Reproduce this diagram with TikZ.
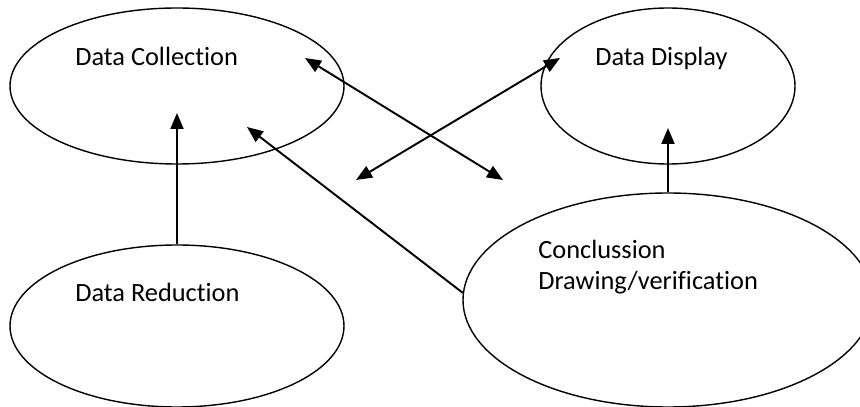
\documentclass[tikz,border=0pt]{standalone}
\usepackage{fontspec}
\setmainfont{Carlito}[Ligatures=NoCommon]
\usepackage{tikz}
\usetikzlibrary{arrows.meta,shapes.geometric,positioning,calc}

\begin{document}
\begin{tikzpicture}[
        stage/.style={ellipse, draw=black, line width=0.8pt, inner sep=0pt},
        lbl/.style={anchor=base west, inner sep=0pt, font=\fontsize{15}{18}\selectfont, align=left},
        arrow/.style={-{Triangle[length=0.32cm, width=0.26cm]}, line width=1.1pt},
        twoway/.style={{Triangle[length=0.32cm, width=0.26cm]}-{Triangle[length=0.32cm, width=0.26cm]}, line width=1.1pt}
    ]
        \useasboundingbox (0,0) rectangle (17.2,8.14);

        % Stages
        \node[stage, minimum width=6.68cm, minimum height=3.12cm] (coll) at (3.54,6.42) {};
        \node[stage, minimum width=5.08cm, minimum height=3.12cm] (disp) at (13.36,6.42) {};
        \node[stage, minimum width=6.68cm, minimum height=3.24cm] (red) at (3.54,1.62) {};
        \node[stage, minimum width=8.2cm, minimum height=4.28cm] (concl) at (13.36,2.14) {};

        % Labels
        \node[lbl] (collText) at (1.5,6.82) {Data Collection};
        \node[lbl] (dispText) at (11.9,6.82) {Data Display};
        \node[lbl] (redText) at (1.5,2.1) {Data Reduction};
        \node[lbl] (conclText) at (10.76,2.34) {Conclussion\\Drawing/verification};

        % Arrow ends
        \coordinate (redTip) at (3.54,5.88);
        \coordinate (conclTip) at (4.94,5.6);
        \coordinate (dispTip) at (13.36,5.58);
        \coordinate (cA) at (6.1,6.98);
        \coordinate (cB) at (10.06,4.54);
        \coordinate (dA) at (7.12,4.54);
        \coordinate (dB) at (11.2,6.98);

        % Flows
        \draw[arrow] (red.north) -- (redTip);
        \draw[arrow] (concl.178) -- (conclTip);
        \draw[arrow] (concl.north) -- (dispTip);
        \draw[twoway] (cA) -- (cB);
        \draw[twoway] (dA) -- (dB);

    \end{tikzpicture}
\end{document}
